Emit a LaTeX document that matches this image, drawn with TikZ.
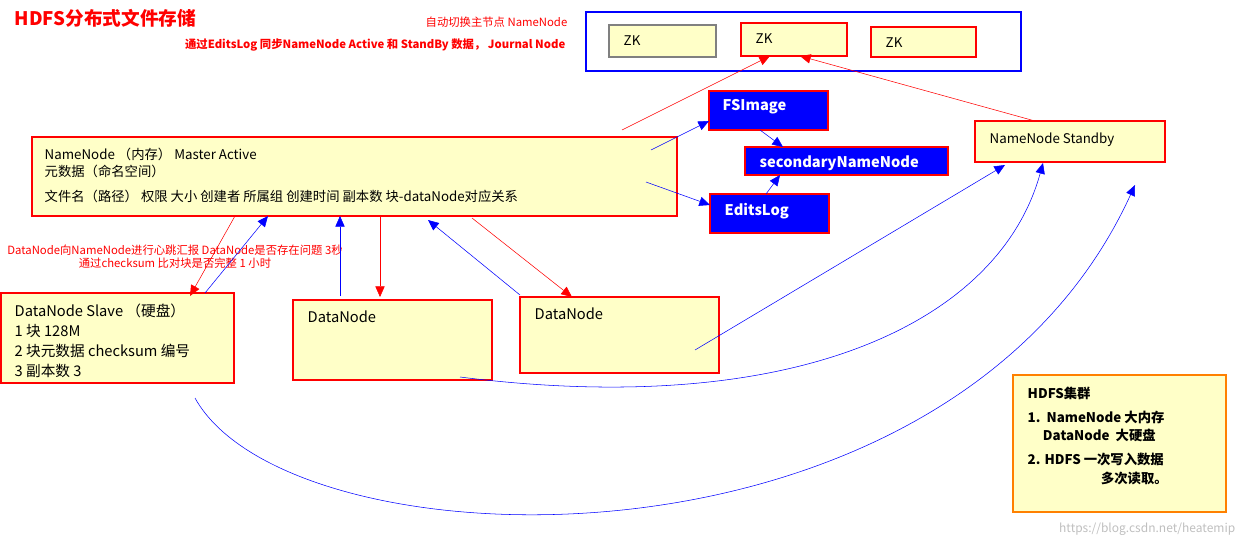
\documentclass[tikz,border=0pt]{standalone}
\usepackage{fontspec}
\setmainfont{Noto Sans CJK SC}
\usetikzlibrary{arrows.meta}
\definecolor{ylw}{HTML}{FFFFC8}
\tikzset{
 box/.style={draw=#1,fill=ylw,line width=0.8pt,inner sep=0pt},
 bbox/.style={draw=red,fill=blue,line width=0.8pt},
 lbl/.style={anchor=north west,align=left,font=\fontsize{10}{13}\selectfont},
 wl/.style={text=white,font=\bfseries\fontsize{11}{13}\selectfont},
 ra/.style={draw=red,-{Triangle[length=8pt,width=7pt,fill=red]}},
 ba/.style={draw=blue,-{Triangle[length=8pt,width=7pt,fill=blue]}},
 rt/.style={text=red,font=\fontsize{8.5}{10}\selectfont}
}
\begin{document}
\begin{tikzpicture}[x=0.75pt,y=-0.75pt]
\useasboundingbox (0,0) rectangle (1247,544);
\node[anchor=west,text=red,font=\bfseries\fontsize{14}{16}\selectfont] (title) at (10,18) {HDFS分布式文件存储};
\node[rt,anchor=east] (t1) at (572,22) {自动切换主节点 NameNode};
\node[rt,anchor=east,font=\bfseries\fontsize{8.5}{10}\selectfont] (t2) at (570,45) {通过EditsLog 同步NameNode Active 和 StandBy 数据， Journal Node};
\draw[blue,line width=0.8pt] (586,12) rectangle (1021,71);
\draw[box=gray] (609,25) rectangle (716,57); \node[lbl] (zk1) at (619,31) {ZK};
\draw[box=red] (741,23) rectangle (847,56); \node[lbl] (zk2) at (751,29) {ZK};
\draw[box=red] (871,27) rectangle (976,57); \node[lbl] (zk3) at (881,33) {ZK};
\coordinate (zkb) at (770,56); \coordinate (zkc) at (800,56);
\draw[bbox] (709,91) rectangle (828,130); \node[wl,anchor=west] (fs) at (718,107) {FSImage};
\draw[bbox] (745,147) rectangle (948,175); \node[wl,anchor=west] (sn) at (755,163) {secondaryNameNode};
\draw[bbox] (710,194) rectangle (829,233); \node[wl,anchor=west] (el) at (720,211) {EditsLog};
\draw[box=red] (32,137) rectangle (677,216);
\node[lbl] (nn) at (40,143) {NameNode （内存） Master Active\\元数据（命名空间）\\[6pt]文件名（路径） 权限 大小 创建者 所属组 创建时间 副本数 块-dataNode对应关系};
\draw[box=red] (975,121) rectangle (1165,162); \node[lbl] (sb) at (985,128) {NameNode Standby};
\draw[box=red] (1,293) rectangle (234,383);
\node[lbl,font=\fontsize{11}{15}\selectfont] (ds) at (10,299) {DataNode Slave （硬盘）\\1 块 128M\\2 块元数据 checksum 编号\\3 副本数 3};
\draw[box=red] (293,300) rectangle (492,380); \node[lbl,font=\fontsize{11}{14}\selectfont] (d2) at (303,306) {DataNode};
\draw[box=red] (520,297) rectangle (719,373); \node[lbl,font=\fontsize{11}{14}\selectfont] (d3) at (530,303) {DataNode};
\draw[box=orange] (1013,375) rectangle (1226,512);
\node[lbl,font=\bfseries\fontsize{10}{14}\selectfont] (hc) at (1023,382) {HDFS集群\\[4pt]1.\ \ NameNode 大内存\\\ \ \ \ \ DataNode \ 大硬盘\\[4pt]2. HDFS 一次写入数据\\\hspace{5.5em}多次读取。};
\node[rt,align=center] (hb) at (175,257) {DataNode向NameNode进行心跳汇报 DataNode是否存在问题 3秒\\通过checksum 比对块是否完整 1 小时};
\node[text=gray!50,anchor=south east,font=\fontsize{9}{10}\selectfont] (wm) at (1240,540) {https://blog.csdn.net/heatemip};
% arrows
\draw[ra] (622,130) -- (zkb);
\draw[ra] (1035,121) -- (zkc);
\draw[ba] (651,150) -- (709,121);
\draw[ba] (646,182) -- (710,205);
\draw[ba] (760,130) -- (783,147);
\draw[ba] (766,194) -- (780,175);
\draw[ra] (235,216) -- (190,296);
\draw[ba] (205,293) -- (268,216);
\draw[ba] (340,296) -- (340,216);
\draw[ra] (380,216) -- (380,297);
\draw[ba] (520,295) -- (428,220);
\draw[ra] (472,218) -- (572,297);
\draw[ba] (695,350) -- (1005,165);
\draw[ba] (460,377) .. controls (800,420) and (1000,320) .. (1043,163);
\draw[ba] (195,398) .. controls (290,570) and (950,590) .. (1135,185);
\end{tikzpicture}
\end{document}
